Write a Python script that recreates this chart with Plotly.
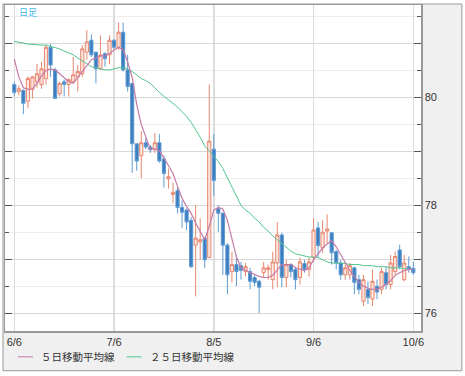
import plotly.graph_objects as go

dates = ["6/6","6/7","6/8","6/9","6/10","6/13","6/14","6/15","6/16","6/17","6/20","6/21","6/22","6/23","6/24","6/27","6/28","6/29","6/30",
         "7/1","7/4","7/5","7/6","7/7","7/8","7/11","7/12","7/13","7/14","7/15","7/18","7/19","7/20","7/21","7/22","7/25","7/26","7/27","7/28","7/29",
         "8/1","8/2","8/3","8/4","8/5","8/8","8/9","8/10","8/11","8/12","8/15","8/16","8/17","8/18","8/19","8/22","8/23","8/24","8/25","8/26","8/29","8/30","8/31",
         "9/1","9/2","9/5","9/6","9/7","9/8","9/9","9/12","9/13","9/14","9/15","9/16","9/19","9/20","9/21","9/22","9/23","9/26","9/27","9/28","9/29","9/30",
         "10/3","10/4","10/5","10/6"]

open_ = [80.24,80.11,80.13,79.93,80.15,80.29,80.24,80.35,80.93,80.51,80.07,80.29,80.24,80.29,80.38,80.44,80.84,81.06,80.84,
         80.53,80.81,80.79,81.06,80.93,81.21,80.51,80.26,79.14,78.92,79.16,79.08,79.04,79.16,78.86,78.49,78.20,78.27,77.96,77.91,77.72,
         77.26,77.32,77.39,77.03,79.04,77.94,77.85,77.26,76.77,76.90,76.88,76.77,76.77,76.66,76.59,76.75,76.81,76.62,76.93,77.45,76.66,76.90,76.81,
         76.66,76.92,76.81,77.03,77.58,77.21,77.52,77.49,77.14,76.93,76.71,76.71,76.84,76.62,76.22,76.44,76.26,76.50,76.44,76.75,76.53,76.77,
         77.17,76.62,76.86,76.83]
high = [80.29,80.22,80.15,80.39,80.40,80.62,80.66,80.97,80.99,80.55,80.29,80.33,80.35,80.75,80.60,80.97,81.25,81.17,80.84,
        81.15,80.84,81.15,81.08,81.39,81.39,80.79,80.26,79.14,79.38,79.25,79.12,79.34,79.32,78.92,78.68,78.42,78.33,78.09,77.94,77.78,
        78.00,77.76,77.41,80.24,79.32,78.00,77.87,77.30,77.14,77.08,76.95,76.93,76.84,76.71,76.62,76.95,76.90,77.14,77.69,77.49,76.99,76.93,76.86,
        77.03,76.99,77.03,77.76,77.69,77.72,77.83,77.49,77.17,76.99,76.90,76.93,76.86,76.71,76.71,76.59,76.81,76.62,76.84,76.86,77.08,77.14,
        77.27,77.08,77.05,76.95]
low = [80.02,80.04,79.69,79.80,79.98,80.18,80.16,80.24,80.38,79.98,80.02,80.02,80.02,80.26,80.11,80.38,80.70,80.75,80.26,
       80.51,80.57,80.62,80.90,80.88,80.48,80.11,78.60,78.64,78.50,79.04,78.97,78.97,78.79,78.33,78.31,78.04,77.85,77.58,77.54,76.84,
       76.31,76.99,76.84,77.03,78.18,77.50,76.71,76.35,76.57,76.50,76.62,76.68,76.44,76.50,76.00,76.66,76.62,76.44,76.48,76.48,76.48,76.66,76.44,
       76.53,76.75,76.68,76.95,77.03,77.12,77.30,76.90,76.81,76.62,76.62,76.62,76.35,76.35,76.13,76.17,76.13,76.26,76.35,76.44,76.44,76.71,
       76.81,76.59,76.75,76.71]
close = [80.09,80.16,79.89,80.35,80.38,80.44,80.53,80.93,80.60,79.98,80.26,80.24,80.33,80.42,80.48,80.90,81.03,80.79,80.53,
         80.79,80.72,81.06,80.93,81.21,80.51,80.20,79.14,78.82,79.16,79.08,79.03,79.16,78.82,78.59,78.53,78.24,77.96,77.87,77.69,76.86,
         77.39,77.36,76.99,79.19,78.46,77.85,77.26,76.71,76.90,76.77,76.79,76.86,76.59,76.57,76.48,76.84,76.84,76.95,77.45,76.66,76.90,76.77,76.62,
         76.95,76.81,76.95,77.54,77.25,77.50,77.56,77.12,76.93,76.71,76.84,76.88,76.57,76.44,76.62,76.29,76.59,76.39,76.77,76.53,76.93,77.05,
         76.86,76.93,76.81,76.75]

ma5 = [80.71,80.38,80.18,80.15,80.16,80.26,80.40,80.50,80.53,80.51,80.44,80.37,80.29,80.26,80.37,80.50,80.60,80.70,80.73,
       80.77,80.77,80.81,80.88,80.93,80.88,80.66,80.37,79.87,79.50,79.25,79.04,79.04,79.01,78.88,78.73,78.59,78.35,78.13,77.98,77.85,
       77.67,77.50,77.36,77.61,77.91,77.96,77.93,77.72,77.36,77.04,76.84,76.79,76.75,76.72,76.68,76.66,76.66,76.70,76.81,76.90,76.90,76.90,76.84,
       76.81,76.79,76.84,76.99,77.10,77.21,77.28,77.34,77.23,77.08,76.93,76.79,76.68,76.57,76.50,76.46,76.44,76.44,76.48,76.53,76.60,76.70,
       76.75,76.79,76.81,76.81]
ma25 = [81.04,81.03,81.01,80.99,80.98,80.97,80.97,80.97,80.95,80.93,80.90,80.86,80.82,80.79,80.73,80.68,80.62,80.57,80.55,
        80.53,80.51,80.51,80.53,80.55,80.55,80.53,80.48,80.42,80.35,80.31,80.26,80.18,80.09,80.02,79.96,79.89,79.82,79.74,79.65,79.54,
        79.41,79.26,79.10,79.01,78.90,78.81,78.68,78.51,78.35,78.16,78.00,77.91,77.85,77.76,77.69,77.59,77.52,77.43,77.36,77.28,77.21,77.15,77.10,
        77.08,77.06,77.04,77.04,77.03,76.99,76.95,76.93,76.93,76.92,76.92,76.90,76.90,76.90,76.88,76.88,76.88,76.86,76.86,76.86,76.84,76.84,
        76.84,76.82,76.82,76.81]

x_ticks = ["6/6", "7/6", "8/5", "9/6", "10/6"]
y_tickvals = [76, 77, 78, 79, 80, 81]
y_ticktext = ["76", "", "78", "", "80", ""]
legend_names = ["５日移動平均線", "２５日移動平均線"]
title_text = "日足"

C_MA5 = "#c47aa6"
C_MA25 = "#52c58e"

W, H = 465, 376
L, R, T, B = 4, 44, 3, 45
PW, PH = W - L - R, H - T - B

def px(xp):
    return (xp - L) / PW

def py(yp):
    return (H - B - yp) / PH

fig = go.Figure()
fig.add_trace(go.Candlestick(
    x=dates, open=open_, high=high, low=low, close=close,
    increasing=dict(line=dict(color="#e8866e", width=1), fillcolor="#fce6df"),
    decreasing=dict(line=dict(color="#5f9ad0", width=1), fillcolor="#3b7dc0"),
    whiskerwidth=0, hoverinfo="skip", showlegend=False,
))
fig.add_trace(go.Scatter(x=dates, y=ma25, mode="lines", line=dict(color=C_MA25, width=1), showlegend=False, hoverinfo="skip"))
fig.add_trace(go.Scatter(x=dates, y=ma5, mode="lines", line=dict(color=C_MA5, width=1.2), showlegend=False, hoverinfo="skip"))

shapes = [
    dict(type="rect", xref="paper", yref="paper", x0=px(2), x1=px(462), y0=py(371), y1=py(2),
         fillcolor="#f0f0f0", line=dict(color="#999999", width=1), layer="below"),
    dict(type="rect", xref="paper", yref="paper", x0=0, x1=1, y0=0, y1=1,
         fillcolor="white", line=dict(width=0), layer="below"),
    dict(type="line", xref="paper", yref="paper", x0=px(17), x1=px(32), y0=py(357), y1=py(357),
         line=dict(color=C_MA5, width=1)),
    dict(type="line", xref="paper", yref="paper", x0=px(126), x1=px(141), y0=py(357), y1=py(357),
         line=dict(color=C_MA25, width=1)),
]
annotations = [
    dict(text=legend_names[0], xref="paper", yref="paper", x=px(38), y=py(357), xanchor="left", yanchor="middle",
         showarrow=False, font=dict(family="Noto Sans CJK JP", size=10.5, color="#333333")),
    dict(text=legend_names[1], xref="paper", yref="paper", x=px(147), y=py(357), xanchor="left", yanchor="middle",
         showarrow=False, font=dict(family="Noto Sans CJK JP", size=10.5, color="#333333")),
    dict(text=title_text, xref="paper", yref="paper", x=px(16), y=py(11), xanchor="left", yanchor="middle",
         showarrow=False, font=dict(family="Noto Sans CJK JP", size=9, color="#45b8ea")),
]

fig.update_layout(
    width=W, height=H, margin=dict(l=L, r=R, t=T, b=B, pad=0),
    paper_bgcolor="white", plot_bgcolor="white",
    shapes=shapes, annotations=annotations, showlegend=False,
    boxgap=0.3, boxgroupgap=0.0,
    font=dict(family="Liberation Sans", size=11, color="#333333"),
    xaxis=dict(type="category", range=[-2.05, 89.7], rangeslider=dict(visible=False),
               tickmode="array", tickvals=x_ticks, ticktext=x_ticks, ticks="",
               showgrid=True, gridcolor="#dcdcdc", gridwidth=1.5,
               showline=True, linecolor="#999999", linewidth=1.5, mirror=True,
               tickfont=dict(family="Liberation Sans", size=11, color="#333333")),
    yaxis=dict(side="right", range=[75.668, 81.714], tickmode="array", tickvals=y_tickvals, ticktext=y_ticktext,
               ticks="inside", ticklen=7, tickcolor="#555555", tickwidth=1,
               showgrid=True, gridcolor="#d8d8d8", gridwidth=1,
               minor=dict(dtick=0.5, tick0=0, ticks="inside", ticklen=4, tickcolor="#555555",
                          showgrid=True, gridcolor="#eeeeee", gridwidth=1),
               showline=True, linecolor="#999999", linewidth=1.5, mirror="ticks", zeroline=False,
               tickfont=dict(family="Liberation Sans", size=11, color="#333333")),
)

fig.write_html("out.html", config={"displayModeBar": False, "staticPlot": True},
               post_script="document.body.style.margin='0';document.body.style.overflow='hidden';")
